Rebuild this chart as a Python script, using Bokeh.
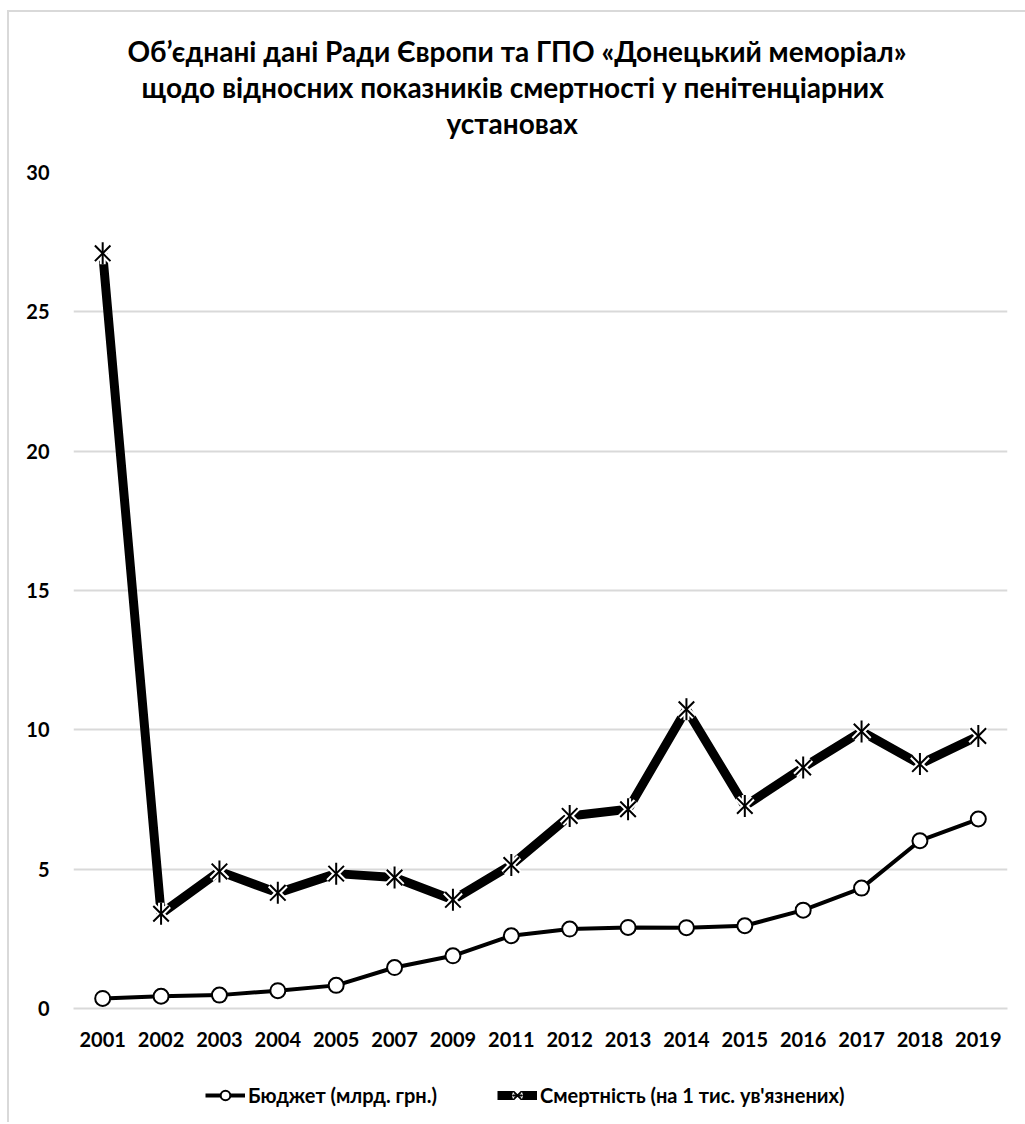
import math
from bokeh.plotting import figure
from bokeh.layouts import column
from bokeh.models import Title, Legend, LegendItem, Range1d, FixedTicker
from bokeh.embed import file_html
from bokeh.resources import INLINE

years = ["2001", "2002", "2003", "2004", "2005", "2007", "2009", "2011",
         "2012", "2013", "2014", "2015", "2016", "2017", "2018", "2019"]
budget = [0.36, 0.44, 0.48, 0.64, 0.83, 1.47, 1.89, 2.61,
          2.85, 2.91, 2.90, 2.97, 3.53, 4.32, 6.02, 6.80]
deaths = [27.1, 3.4, 4.92, 4.15, 4.84, 4.70, 3.90, 5.15,
          6.91, 7.15, 10.74, 7.27, 8.65, 9.94, 8.77, 9.78]
y_ticks = [0, 5, 10, 15, 20, 25, 30]
title_lines = ["Об’єднані дані Ради Європи та ГПО «Донецький меморіал»",
               "щодо відносних показників смертності у пенітенціарних",
               "установах"]
title_offsets = [54, 68, 373]
budget_label = "Бюджет (млрд. грн.)"
deaths_label = "Смертність (на 1 тис. ув'язнених)"

FONT = "Lato"
GRID = "#d9d9d9"


def draw_series(fig):
    r_b = fig.line(years, budget, line_width=4, line_color="black")
    m_b = fig.scatter(years, budget, marker="circle", size=15, fill_color="white",
                      line_color="black", line_width=2)
    r_d = fig.line(years, deaths, line_width=9, line_color="black")
    h_x = fig.scatter(years, deaths, marker="x", size=22, line_color="white", line_width=6)
    h_v = fig.scatter(years, deaths, marker="dash", angle=math.pi / 2, size=22,
                      line_color="white", line_width=6)
    m_x = fig.scatter(years, deaths, marker="x", size=22, line_color="black", line_width=2)
    m_v = fig.scatter(years, deaths, marker="dash", angle=math.pi / 2, size=22,
                      line_color="black", line_width=2)
    return [r_b, m_b], [r_d, h_x, h_v, m_x, m_v]


p = figure(x_range=years, y_range=Range1d(0, 30),
           frame_width=934, frame_height=836,
           output_backend="svg", toolbar_location=None,
           min_border_left=64, min_border_right=18, min_border_top=160,
           min_border_bottom=64, title=None)
p.outline_line_color = None
p.background_fill_color = "white"
p.border_fill_color = "white"

# spacer between title and plot area, then title lines (nearest first)
p.add_layout(Title(text=" ", text_font_size="10px", standoff=20), "above")
for line, off in zip(reversed(title_lines), reversed(title_offsets)):
    p.add_layout(Title(text=line, align="left", offset=off, text_font=FONT,
                       text_font_size="28px", text_font_style="bold",
                       text_color="#000000", standoff=0), "above")

# grid / axes
p.xgrid.grid_line_color = None
p.ygrid.grid_line_color = GRID
p.ygrid.grid_line_width = 2
p.yaxis.ticker = FixedTicker(ticks=y_ticks)
p.yaxis.axis_line_color = None
p.yaxis.major_tick_line_color = None
p.yaxis.minor_tick_line_color = None
p.yaxis.major_label_standoff = 18
p.yaxis.major_label_text_font = FONT
p.yaxis.major_label_text_font_size = "20px"
p.yaxis.major_label_text_font_style = "bold"
p.yaxis.major_label_text_color = "#000000"

p.xaxis.axis_line_color = GRID
p.xaxis.axis_line_width = 2
p.xaxis.major_tick_line_color = None
p.xaxis.minor_tick_line_color = None
p.xaxis.major_label_standoff = 17
p.xaxis.major_label_text_font = FONT
p.xaxis.major_label_text_font_size = "20px"
p.xaxis.major_label_text_font_style = "bold"
p.xaxis.major_label_text_color = "#000000"

draw_series(p)

# legend strip: same series, ranges chosen so only the legend is visible
q = figure(x_range=p.x_range, y_range=Range1d(1000, 1001), width=1016, height=50,
           output_backend="svg", toolbar_location=None,
           x_axis_location=None, y_axis_location=None,
           min_border_left=0, min_border_right=0, min_border_top=0,
           min_border_bottom=0, title=None)
q.outline_line_color = None
q.grid.visible = False
q.background_fill_color = "white"
q.border_fill_color = "white"
budget_rs, deaths_rs = draw_series(q)

legend = Legend(items=[LegendItem(label=budget_label, renderers=budget_rs),
                       LegendItem(label=deaths_label, renderers=deaths_rs)],
                orientation="horizontal", location=(132, 15),
                label_text_font=FONT, label_text_font_size="20px",
                label_text_font_style="bold", label_text_color="#000000",
                glyph_width=40, glyph_height=24, spacing=60, label_standoff=3,
                border_line_color=None, background_fill_alpha=0, padding=4, margin=0)
q.add_layout(legend)

layout = column(p, q, spacing=0)
layout.margin = (10, 0, 0, 7)
layout.styles = {"border-left": "2px solid #d9d9d9", "border-top": "2px solid #d9d9d9"}

open("out.html", "w").write(file_html(layout, INLINE))
